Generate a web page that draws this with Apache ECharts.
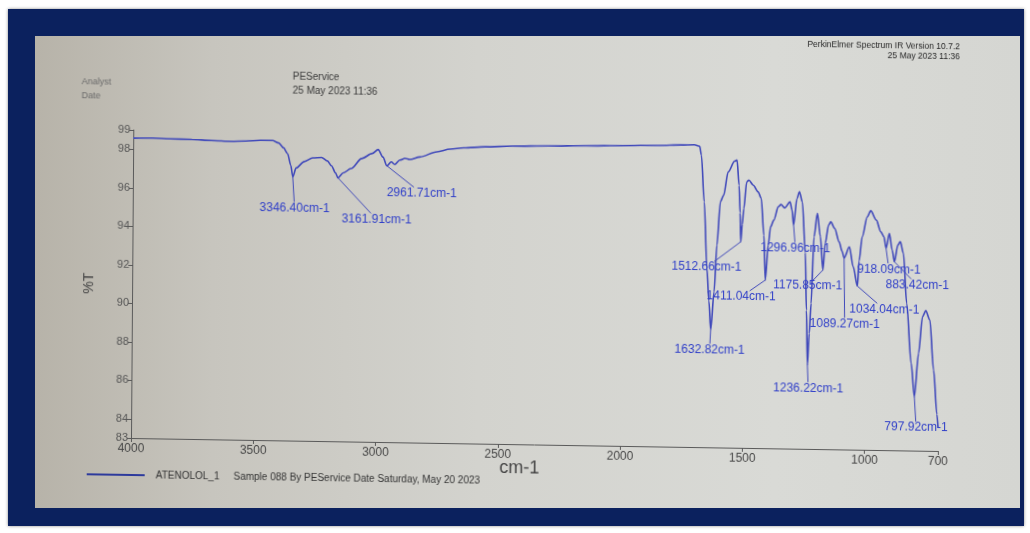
<!DOCTYPE html>
<html>
<head>
<meta charset="utf-8">
<title>ATENOLOL_1 IR spectrum</title>
<script src="https://cdn.jsdelivr.net/npm/echarts@6/dist/echarts.min.js"></script>
<style>
  html, body { margin: 0; padding: 0; background: #ffffff; width: 1030px; height: 533px; overflow: hidden; }
  #frame { position: absolute; left: 8px; top: 9px; width: 1016px; height: 517px; background: #0b215e; box-shadow: 0 0 3px rgba(0,0,0,0.45); }
  #screen { position: absolute; left: 35px; top: 36px; width: 985px; height: 472px;
    background: linear-gradient(90deg, #b7b3a9 0%, #c7c5be 18%, #d3d3ce 45%, #d9dad6 75%, #d5d6d2 100%); }
  #chart { position: absolute; left: 0; top: 0; width: 1030px; height: 533px;
    transform-origin: 131px 438px; transform: matrix(1, 0.0161, -0.0075, 1, 0, 0); }
</style>
</head>
<body>
<div id="frame"></div>
<div id="screen"></div>
<div id="chart"></div>
<script>
// Spectrum trace (wavenumber in cm-1, transmittance in %T), excluding labelled peaks
const traceWavenumbers = [
  4000, 3920, 3850, 3760, 3680, 3600, 3540, 3480, 3430, 3405,
  3385, 3368, 3355, 3333, 3300, 3265, 3229, 3205, 3188, 3172,
  3140, 3108, 3065, 3022, 2998, 2978, 2944, 2930, 2909, 2888,
  2868, 2827, 2758, 2703, 2648, 2560, 2450, 2300, 2150, 2000,
  1850, 1760, 1705, 1683, 1676, 1663, 1650, 1641, 1620, 1610,
  1597, 1584, 1566, 1540, 1530, 1521, 1516, 1507, 1501, 1490,
  1481, 1463, 1443, 1430, 1418, 1400, 1391, 1378, 1360, 1349,
  1334, 1312, 1304, 1284, 1274, 1262, 1248, 1242, 1230, 1223,
  1213, 1200, 1187, 1167, 1154, 1145, 1129, 1110, 1098, 1068,
  1052, 1028, 1016, 996, 982, 959, 940, 927, 905, 893,
  870, 860, 847, 832, 812, 782, 767, 754, 737, 720,
  705, 700
];
const traceTransmittance = [
  98.58, 98.60, 98.57, 98.56, 98.52, 98.49, 98.52, 98.57, 98.57, 98.45,
  98.20, 97.90, 97.30, 97.16, 97.50, 97.70, 97.73, 97.55, 97.30, 96.95,
  96.95, 97.18, 97.71, 97.98, 98.19, 97.80, 97.56, 97.43, 97.66, 97.75,
  97.70, 97.84, 98.12, 98.27, 98.35, 98.42, 98.48, 98.52, 98.56, 98.60,
  98.64, 98.68, 98.70, 98.62, 98.16, 95.74, 92.28, 90.60, 91.08, 93.50,
  95.76, 96.10, 97.32, 97.88, 97.94, 96.64, 95.20, 94.60, 95.43, 96.82,
  96.91, 96.65, 96.31, 95.97, 94.06, 93.55, 94.50, 94.85, 95.55, 95.67,
  95.50, 95.82, 95.40, 96.00, 96.35, 95.83, 93.20, 90.20, 89.00, 90.56,
  94.02, 95.24, 94.03, 93.69, 94.64, 94.81, 94.48, 93.78, 93.30, 93.53,
  92.50, 92.80, 94.06, 95.10, 95.42, 94.94, 94.34, 94.08, 94.26, 93.40,
  93.66, 93.84, 93.24, 90.64, 87.53, 88.06, 89.96, 90.28, 89.80, 87.20,
  84.90, 84.20
];

// Labelled absorption peaks
const peakWavenumbers = [3346.40, 3161.91, 2961.71, 1632.82, 1512.66, 1411.04, 1296.96,
  1236.22, 1175.85, 1089.27, 1034.04, 918.09, 883.42, 797.92];
const peakTransmittance = [96.70, 96.69, 97.35, 89.10, 93.70, 91.73, 94.61,
  87.35, 92.30, 92.95, 91.50, 93.48, 92.79, 85.80];

// Axis tick values
const xTicks = [4000, 3500, 3000, 2500, 2000, 1500, 1000, 700];
const yTicks = [83, 84, 86, 88, 90, 92, 94, 96, 98, 99];

const sampleName = 'ATENOLOL_1';
const sampleInfo = 'Sample 088 By PEService Date Saturday, May 20 2023';

// Full trace: background points merged with the peak minima, ordered high to low wavenumber
const trace = traceWavenumbers.map((w, i) => [w, traceTransmittance[i]])
  .concat(peakWavenumbers.map((w, i) => [w, peakTransmittance[i]]))
  .sort((a, b) => b[0] - a[0]);
const peaks = peakWavenumbers.map((w, i) => [w, peakTransmittance[i]]);

// Label centre relative to its peak minimum (pixels)
const labelShift = [[2, 31], [39, 41], [35, 27], [-1, 20], [-34, 26], [-24, 17], [2, 23],
  [1, 23], [-15, 16], [1, 66], [27, 23], [3, 21], [23, 23], [2, 31]];

const FONT = '"Liberation Sans", Arial, sans-serif';
const curveColor = '#4049ba';
const peakLabelColor = '#3140c8';
const LABEL_HALF_W = 35;
const LABEL_HALF_H = 6;

// Peak annotation: leader line from the minimum to the edge of its label, then the label
function renderPeakLabel(params, api) {
  const i = params.dataIndex;
  const wn = api.value(0);
  const p = api.coord([wn, api.value(1)]);
  const cx = p[0] + labelShift[i][0];
  const cy = p[1] + labelShift[i][1];
  const dx = cx - p[0];
  const dy = cy - p[1];
  const u = Math.min(
    Math.abs(dx) > 1e-6 ? LABEL_HALF_W / Math.abs(dx) : Infinity,
    Math.abs(dy) > 1e-6 ? LABEL_HALF_H / Math.abs(dy) : Infinity
  );
  const children = [];
  if (u < 1) {
    children.push({
      type: 'line',
      shape: { x1: p[0], y1: p[1], x2: cx - u * dx, y2: cy - u * dy },
      style: { stroke: curveColor, lineWidth: 1 }
    });
  }
  children.push({
    type: 'text',
    x: cx,
    y: cy,
    style: {
      text: wn.toFixed(2) + 'cm-1',
      fill: peakLabelColor,
      font: '12px ' + FONT,
      align: 'center', textAlign: 'center',
      verticalAlign: 'middle', textVerticalAlign: 'middle'
    }
  });
  return { type: 'group', children: children };
}

const chart = echarts.init(document.getElementById('chart'), null, { renderer: 'canvas' });

chart.setOption({
  animation: false,
  backgroundColor: 'transparent',
  textStyle: { fontFamily: FONT },
  grid: { left: 131, right: 92, top: 130, bottom: 95 },
  xAxis: {
    type: 'value',
    inverse: true,
    min: 700,
    max: 4000,
    name: 'cm-1',
    nameLocation: 'middle',
    nameGap: 15,
    nameMoveOverlap: false,
    nameTextStyle: { fontSize: 18, color: '#454545', fontFamily: FONT, padding: [0, 30, 0, 0] },
    axisLine: { show: true, lineStyle: { color: '#5a5a5a', width: 1 } },
    axisTick: { show: true, length: 4, customValues: xTicks, lineStyle: { color: '#5a5a5a' } },
    axisLabel: { customValues: xTicks, fontSize: 12, color: '#474747', margin: 5, fontFamily: FONT,
      formatter: (v) => String(v) },
    splitLine: { show: false }
  },
  yAxis: {
    type: 'value',
    min: 83,
    max: 99,
    name: '%T',
    nameLocation: 'middle',
    nameGap: 36,
    nameMoveOverlap: false,
    nameTextStyle: { fontSize: 14, color: '#454545', fontFamily: FONT },
    axisLine: { show: true, lineStyle: { color: '#5a5a5a', width: 1 } },
    axisTick: { show: true, length: 4, customValues: yTicks, lineStyle: { color: '#5a5a5a' } },
    axisLabel: { customValues: yTicks, fontSize: 11, color: '#555555', margin: 3, fontFamily: FONT,
      formatter: (v) => String(v) },
    splitLine: { show: false }
  },
  legend: {
    data: [{ name: sampleName, itemStyle: { color: '#2d3a9c' } }],
    left: 82,
    top: 465,
    icon: 'rect',
    itemWidth: 58,
    itemHeight: 2,
    formatter: (name) => '{n|' + name + '}{s|' + sampleInfo + '}',
    textStyle: {
      rich: {
        n: { fontSize: 10, color: '#333333', fontFamily: FONT, padding: [0, 0, 0, 6] },
        s: { fontSize: 10, color: '#333333', fontFamily: FONT, padding: [0, 0, 0, 14] }
      }
    }
  },
  graphic: [
    { type: 'text', x: 79, y: 83, style: { text: 'Analyst', fill: '#6a6a6a', font: '9px ' + FONT, verticalAlign: 'middle', textVerticalAlign: 'middle' } },
    { type: 'text', x: 79, y: 97, style: { text: 'Date', fill: '#6a6a6a', font: '9px ' + FONT, verticalAlign: 'middle', textVerticalAlign: 'middle' } },
    { type: 'text', x: 290, y: 74.5, style: { text: 'PEService', fill: '#3a3a3a', font: '10px ' + FONT, verticalAlign: 'middle', textVerticalAlign: 'middle' } },
    { type: 'text', x: 290, y: 88.5, style: { text: '25 May 2023 11:36', fill: '#3a3a3a', font: '10px ' + FONT, verticalAlign: 'middle', textVerticalAlign: 'middle' } },
    { type: 'text', x: 957, y: 34, style: { text: 'PerkinElmer Spectrum IR Version 10.7.2', fill: '#262626', font: '8.5px ' + FONT, align: 'right', textAlign: 'right', verticalAlign: 'middle', textVerticalAlign: 'middle' } },
    { type: 'text', x: 957, y: 44, style: { text: '25 May 2023 11:36', fill: '#262626', font: '8.5px ' + FONT, align: 'right', textAlign: 'right', verticalAlign: 'middle', textVerticalAlign: 'middle' } }
  ],
  series: [
    {
      name: sampleName,
      type: 'line',
      data: trace,
      symbol: 'none',
      smooth: 0.3,
      smoothMonotone: 'x',
      lineStyle: { color: curveColor, width: 1.6 },
      itemStyle: { color: curveColor },
      z: 3
    },
    {
      name: 'peaks',
      type: 'custom',
      data: peaks,
      encode: { x: 0, y: 1 },
      renderItem: renderPeakLabel,
      silent: true,
      z: 4
    }
  ]
});
</script>
</body>
</html>
